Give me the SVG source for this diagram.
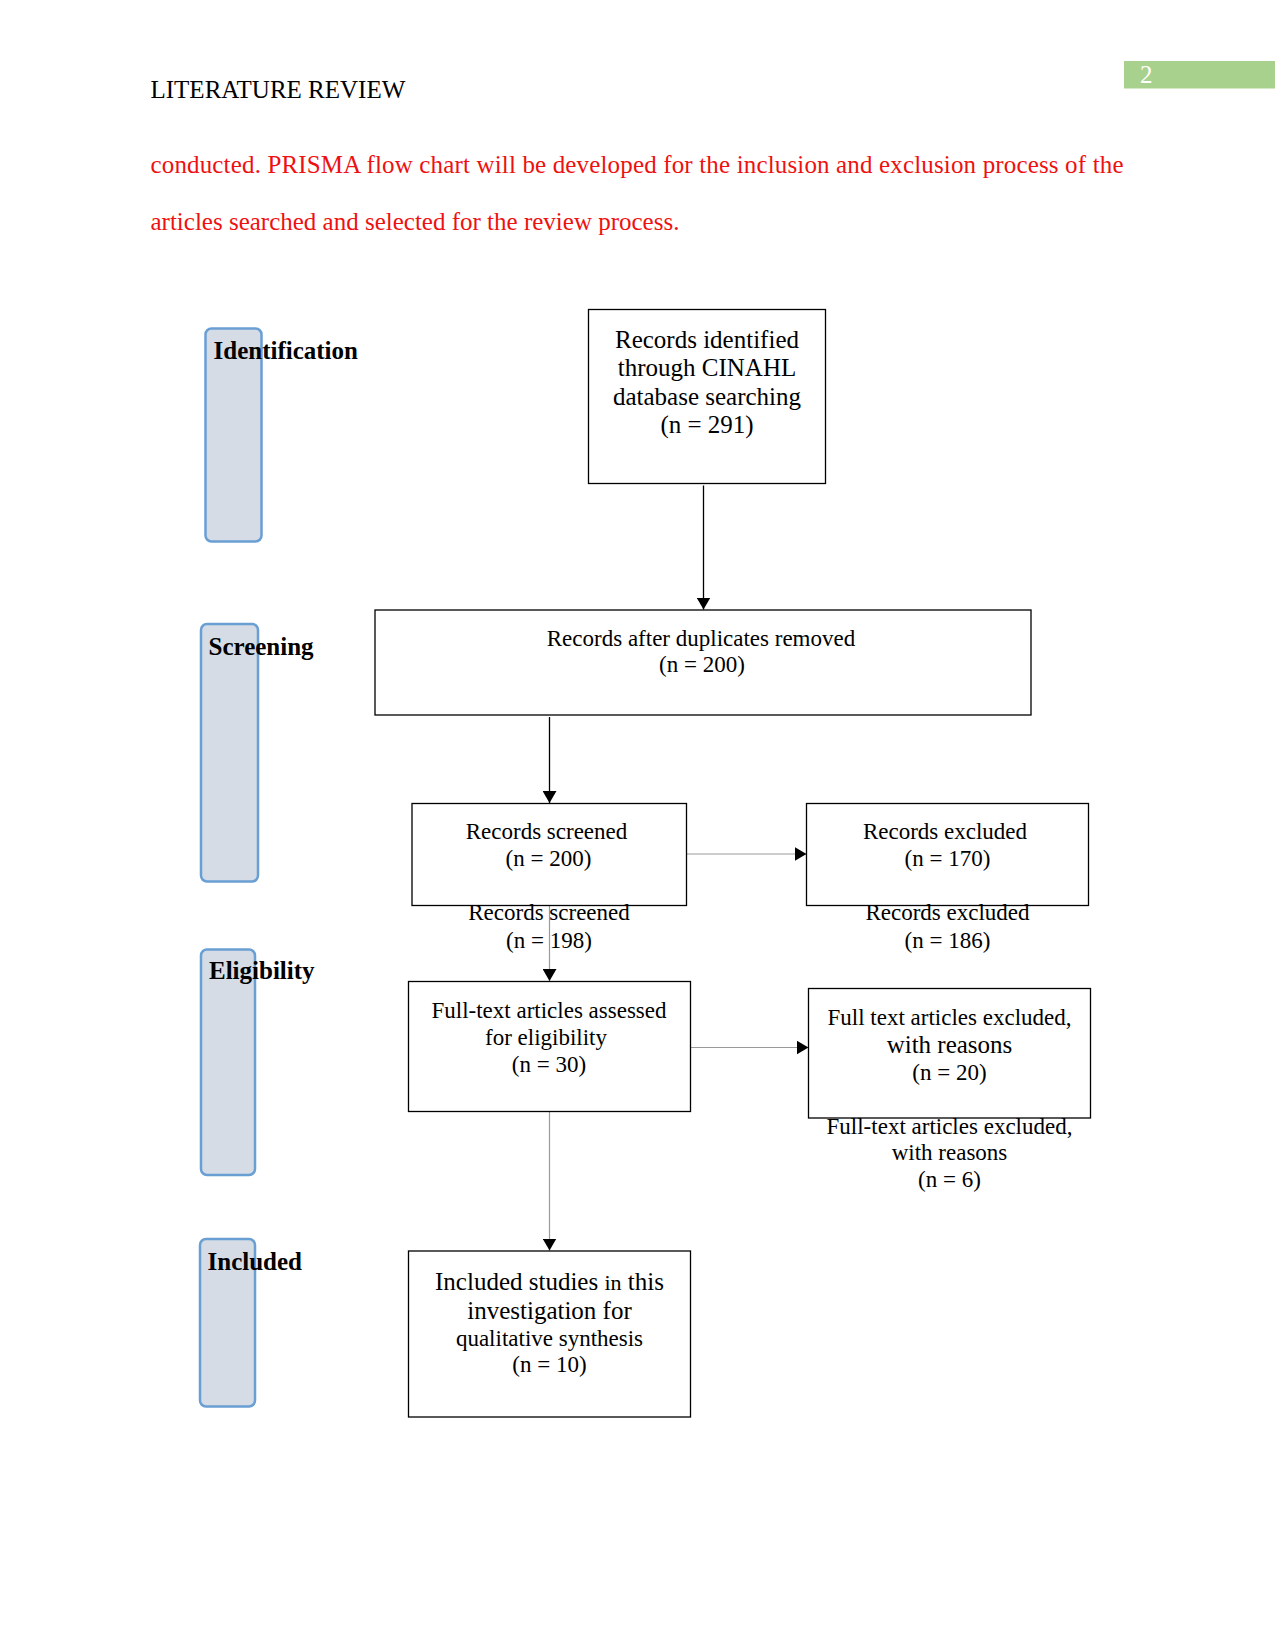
<svg xmlns="http://www.w3.org/2000/svg" width="1275" height="1651" viewBox="0 0 1275 1651">
<defs>
<style>
text{font-family:"Liberation Serif","Times New Roman",serif;fill:#000}
.t25{font-size:25px}
.t23{font-size:23px}
.c{text-anchor:middle}
.b{font-weight:bold;font-size:25px}
.red{fill:#ee1111;font-size:25px}
.box{fill:#fff;stroke:#000;stroke-width:1.3}
.stage{fill:#d5dce6;stroke:#6a9fd4;stroke-width:2.5}
.blk{stroke:#000;stroke-width:1.3;fill:none}
.gry{stroke:#9a9a9a;stroke-width:1.2;fill:none}
</style>
<marker id="ah" markerUnits="userSpaceOnUse" markerWidth="12" markerHeight="14" refX="12" refY="7" orient="auto">
<path d="M0,0 L12,7 L0,14 z" fill="#000"/>
</marker>
</defs>
<rect width="1275" height="1651" fill="#fff"/>
<g id="header">
<text class="t25" x="150.5" y="98">LITERATURE REVIEW</text>
<rect x="1124" y="61" width="151" height="27.5" fill="#a9d18e"/>
<text class="t25" x="1140" y="83" style="fill:#fff">2</text>
</g>
<g id="intro">
<text class="red" x="150.5" y="173" textLength="973" lengthAdjust="spacing">conducted. PRISMA flow chart will be developed for the inclusion and exclusion process of the</text>
<text class="red" x="150.5" y="229.5">articles searched and selected for the review process.</text>
</g>
<g id="stage-identification">
<rect class="stage" x="205.5" y="328.5" width="56" height="213" rx="6"/>
<text class="b" x="213.5" y="359">Identification</text>
</g>
<g id="stage-screening">
<rect class="stage" x="201" y="624" width="57" height="257.5" rx="6"/>
<text class="b" x="208.5" y="655">Screening</text>
</g>
<g id="stage-eligibility">
<rect class="stage" x="201" y="949.5" width="54" height="225.5" rx="6"/>
<text class="b" x="209" y="979">Eligibility</text>
</g>
<g id="stage-included">
<rect class="stage" x="200" y="1239" width="55" height="167.5" rx="6"/>
<text class="b" x="207.5" y="1269.5">Included</text>
</g>
<g id="connectors">
<line class="blk" x1="703.5" y1="485.5" x2="703.5" y2="609.5" marker-end="url(#ah)"/>
<line class="blk" x1="549.5" y1="717" x2="549.5" y2="803" marker-end="url(#ah)"/>
<line class="gry" x1="686.5" y1="854" x2="806.5" y2="854" marker-end="url(#ah)"/>
<line class="gry" x1="549.5" y1="905.5" x2="549.5" y2="981" marker-end="url(#ah)"/>
<line class="gry" x1="690.5" y1="1047.5" x2="808.5" y2="1047.5" marker-end="url(#ah)"/>
<line class="gry" x1="549.5" y1="1112" x2="549.5" y2="1250.5" marker-end="url(#ah)"/>
</g>
<g id="node-identified">
<rect class="box" x="588.5" y="309.5" width="237" height="174"/>
<text class="t25 c" x="707" y="347.5">Records identified</text>
<text class="t25 c" x="707" y="376">through CINAHL</text>
<text class="t25 c" x="707" y="405">database searching</text>
<text class="t25 c" x="707" y="433">(n = 291)</text>
</g>
<g id="node-duplicates">
<rect class="box" x="375" y="610" width="656" height="105"/>
<text class="t23 c" x="701" y="645.5">Records after duplicates removed</text>
<text class="t23 c" x="702" y="672">(n = 200)</text>
</g>
<g id="node-screened">
<rect class="box" x="412" y="803.5" width="274.5" height="102"/>
<text class="t23 c" x="546.5" y="839">Records screened</text>
<text class="t23 c" x="548.5" y="865.5">(n = 200)</text>
</g>
<g id="node-excluded">
<rect class="box" x="806.5" y="803.5" width="282" height="102"/>
<text class="t23 c" x="945" y="839">Records excluded</text>
<text class="t23 c" x="947.5" y="865.5">(n = 170)</text>
</g>
<g id="label-screened-198">
<text class="t23 c" x="549" y="920">Records screened</text>
<text class="t23 c" x="549" y="947.5">(n = 198)</text>
</g>
<g id="label-excluded-186">
<text class="t23 c" x="947.5" y="920">Records excluded</text>
<text class="t23 c" x="947.5" y="947.5">(n = 186)</text>
</g>
<g id="node-fulltext">
<rect class="box" x="408.5" y="981.5" width="282" height="130"/>
<text class="t23 c" x="549" y="1018">Full-text articles assessed</text>
<text class="t23 c" x="546" y="1044.5">for eligibility</text>
<text class="t23 c" x="549" y="1072">(n = 30)</text>
</g>
<g id="node-fulltext-excluded">
<rect class="box" x="808.5" y="988.5" width="282" height="129.5"/>
<text class="t23 c" x="949.5" y="1024.5">Full text articles excluded,</text>
<text class="t25 c" x="949.5" y="1052.5">with reasons</text>
<text class="t23 c" x="949.5" y="1080">(n = 20)</text>
</g>
<g id="label-fulltext-excluded-6">
<text class="t23 c" x="949.5" y="1134">Full-text articles excluded,</text>
<text class="t23 c" x="949.5" y="1160">with reasons</text>
<text class="t23 c" x="949.5" y="1186.5">(n = 6)</text>
</g>
<g id="node-included">
<rect class="box" x="408.5" y="1251" width="282" height="166"/>
<text class="t25 c" x="549.5" y="1289.5">Included studies <tspan style="font-size:22px">in</tspan> this</text>
<text class="t25 c" x="549.5" y="1319">investigation for</text>
<text class="t23 c" x="549.5" y="1345.5">qualitative synthesis</text>
<text class="t23 c" x="549.5" y="1372">(n = 10)</text>
</g>
</svg>
